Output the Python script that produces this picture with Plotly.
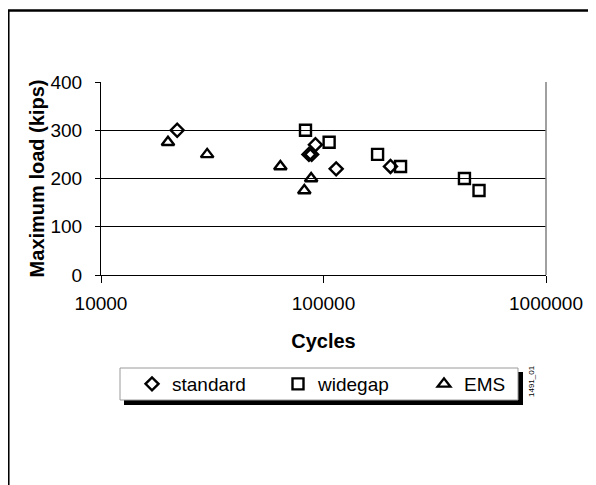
import plotly.graph_objects as go

# ---- data ----
standard_cycles = [22000, 92000, 86000, 88500, 114000, 200000]
standard_load = [300, 270, 250, 250, 220, 225]

widegap_cycles = [83000, 106000, 175000, 222000, 430000, 500000]
widegap_load = [300, 275, 250, 225, 200, 175]

ems_cycles = [20000, 30000, 64000, 88000, 82000]
ems_load = [275, 250, 225, 200, 175]

x_tickvals = [10000, 100000, 1000000]
x_ticktext = ["10000", "100000", "1000000"]
y_tickvals = [0, 100, 200, 300, 400]

FONT = "Liberation Sans, Arial, sans-serif"
OFF = 8  # page body margin
W, H = 596 - OFF, 485 - OFF
# plot area in page pixels: x 101..546, y 82..275
L, T = 101 - OFF, 82 - OFF
PW, PH = 546 - 101, 275 - 82
R, B = W - L - PW, H - T - PH


def px(x):
    return (x - OFF - L) / PW


def py(y):
    return (T + PH - (y - OFF)) / PH


fig = go.Figure()
fig.add_trace(go.Scatter(x=standard_cycles, y=standard_load, mode="markers", name="standard",
                         marker=dict(symbol="diamond-open", size=10, color="black",
                                     line=dict(width=2.4, color="black"))))
fig.add_trace(go.Scatter(x=widegap_cycles, y=widegap_load, mode="markers", name="widegap",
                         marker=dict(symbol="square-open", size=11, color="black",
                                     line=dict(width=2.4, color="black"))))
fig.add_trace(go.Scatter(x=ems_cycles, y=ems_load, mode="markers", name="EMS",
                         marker=dict(symbol="triangle-up-open", size=11, color="black",
                                     line=dict(width=2.4, color="black"))))

shapes = [
    # outer frame
    dict(type="rect", xref="paper", yref="paper", x0=px(8.3), x1=px(620), y0=py(510), y1=py(10.5),
         line=dict(color="black", width=2.5), layer="above"),
    # right plot border
    dict(type="line", xref="paper", yref="paper", x0=1, x1=1, y0=0, y1=1,
         line=dict(color="#808080", width=1.5), layer="above"),
    # legend shadow
    dict(type="rect", xref="paper", yref="paper", x0=px(124), x1=px(523), y0=py(405), y1=py(372),
         line=dict(width=0), fillcolor="black", layer="above"),
    # legend box
    dict(type="rect", xref="paper", yref="paper", x0=px(120), x1=px(518), y0=py(400), y1=py(368),
         line=dict(color="#9a9a9a", width=1), fillcolor="white", layer="above"),
]

fig.update_layout(
    width=W, height=H,
    margin=dict(l=L, r=R, t=T, b=B, autoexpand=False),
    paper_bgcolor="white", plot_bgcolor="white",
    font=dict(family=FONT, size=19, color="black"),
    shapes=shapes,
    showlegend=True,
    legend=dict(orientation="h", x=px(132), xanchor="left", y=py(384), yanchor="middle",
                bgcolor="rgba(0,0,0,0)", borderwidth=0, entrywidth=101, entrywidthmode="pixels",
                font=dict(family=FONT, size=19, color="black")),
    annotations=[dict(text="1491_01", xref="paper", yref="paper", x=px(531), y=py(381),
                      xanchor="center", yanchor="middle",
                      showarrow=False, textangle=-90, font=dict(family=FONT, size=8, color="black"))],
)

fig.update_xaxes(type="log", range=[4, 6], tickvals=x_tickvals, ticktext=x_ticktext,
                 showgrid=False, showline=True, linecolor="black", linewidth=1,
                 ticks="outside", ticklen=7, tickcolor="black", ticklabelstandoff=4,
                 zeroline=False,
                 title=dict(text="<b>Cycles</b>", font=dict(family=FONT, size=20), standoff=21))
fig.update_yaxes(range=[0, 400], tickvals=y_tickvals,
                 showgrid=True, gridcolor="black", gridwidth=1,
                 showline=True, linecolor="black", linewidth=1,
                 ticks="outside", ticklen=5, tickcolor="black", ticklabelstandoff=9,
                 zeroline=False,
                 title=dict(text="<b>Maximum load (kips)</b>", font=dict(family=FONT, size=20), standoff=0))

fig.write_html("out.html")
